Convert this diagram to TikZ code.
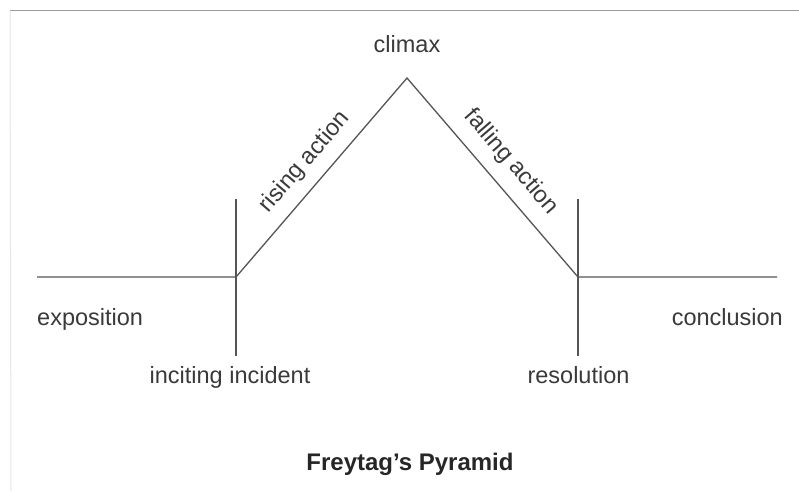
\documentclass[tikz,border=0pt]{standalone}
\usepackage{fontspec}
\setmainfont{Liberation Sans}
\definecolor{linegray}{HTML}{555555}
\definecolor{textgray}{HTML}{3A3A3A}
\definecolor{framegray}{HTML}{9A9A9A}
\definecolor{faintgray}{HTML}{E6E6E6}
\begin{document}
\begin{tikzpicture}[x=1pt,y=-1pt,
  plotline/.style={draw=linegray,line width=1.3pt},
  lbl/.style={text=textgray,font=\fontsize{23.5}{26}\selectfont,inner sep=0pt},
  ttl/.style={text=black!85,font=\fontsize{24}{28}\selectfont\bfseries,inner sep=0pt}]
\useasboundingbox (0,0) rectangle (799,491);
\fill[white] (0,0) rectangle (799,491);
% frame
\coordinate (f1) at (10,10.5);
\coordinate (f2) at (799,10.5);
\coordinate (f3) at (11,491);
\draw[framegray,line width=1.4pt] (f1) -- (f2);
\draw[faintgray,line width=1pt] (f1) -- (f3);
% key points
\coordinate (L) at (37,277);
\coordinate (A) at (236,277);
\coordinate (P) at (407,78);
\coordinate (B) at (578,277);
\coordinate (R) at (777,277);
\coordinate (At) at (236,199);
\coordinate (Ab) at (236,356);
\coordinate (Bt) at (578,199);
\coordinate (Bb) at (578,356);
\draw[plotline] (L) -- (A) -- (P) -- (B) -- (R);
\draw[plotline] (At) -- (Ab);
\draw[plotline] (Bt) -- (Bb);
% labels
\node[lbl,anchor=base] (climax) at (407,52) {climax};
\node[lbl,anchor=base west] (expo) at (37,325) {exposition};
\node[lbl,anchor=base east] (concl) at (783,325) {conclusion};
\node[lbl,anchor=base] (incit) at (230,383) {inciting incident};
\node[lbl,anchor=base] (resol) at (578.5,383) {resolution};
\node[lbl,rotate=49.3] (rising) at (305,162) {rising action};
\node[lbl,rotate=-49.3] (falling) at (511,162) {falling action};
\node[ttl,anchor=base] (title) at (410,470) {Freytag’s Pyramid};
\end{tikzpicture}
\end{document}
